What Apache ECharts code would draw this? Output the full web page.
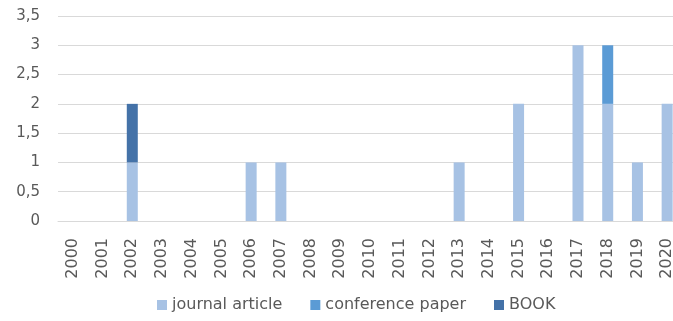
<!DOCTYPE html>
<html>
<head>
<meta charset="utf-8">
<script src="https://cdn.jsdelivr.net/npm/echarts@6/dist/echarts.min.js"></script>
<style>
  html, body { margin: 0; padding: 0; background: #fff; overflow: hidden; }
  #chart { width: 673px; height: 321px; }
</style>
</head>
<body>
<div id="chart"></div>
<script>
// Publications per year, stacked by type
const years = ['2000','2001','2002','2003','2004','2005','2006','2007','2008','2009','2010',
               '2011','2012','2013','2014','2015','2016','2017','2018','2019','2020'];
const journalArticle  = [0,0,1,0,0,0,1,1,0,0,0,0,0,1,0,2,0,3,2,1,2];
const conferencePaper = [0,0,0,0,0,0,0,0,0,0,0,0,0,0,0,0,0,0,1,0,0];
const book            = [0,0,1,0,0,0,0,0,0,0,0,0,0,0,0,0,0,0,0,0,0];
const yTicks = [0, 0.5, 1, 1.5, 2, 2.5, 3, 3.5];

const chart = echarts.init(document.getElementById('chart'));
const textColor = '#595959';
const fontFamily = 'DejaVu Sans, sans-serif';

function bar(name, data, color) {
  return {
    name: name,
    type: 'bar',
    stack: 'total',
    data: data,
    barWidth: 11,
    itemStyle: { color: color },
    emphasis: { disabled: true }
  };
}

chart.setOption({
  animation: false,
  // the plot runs slightly past the right edge of the canvas
  grid: {
    left: 58, width: 624, top: 16, bottom: 100,
    containLabel: false,
    outerBoundsMode: 'none'
  },
  legend: {
    bottom: 3,
    left: 152,
    itemWidth: 10,
    itemHeight: 10,
    itemGap: 28,
    icon: 'rect',
    textStyle: { color: textColor, fontSize: 16, fontFamily: fontFamily },
    data: ['journal article', 'conference paper', 'BOOK']
  },
  xAxis: {
    type: 'category',
    data: years,
    axisLine: { show: true, lineStyle: { color: '#d9d9d9' } },
    axisTick: { show: false },
    axisLabel: {
      rotate: 90,
      interval: 0,
      color: textColor,
      fontSize: 16,
      fontFamily: fontFamily,
      margin: 17
    }
  },
  yAxis: {
    type: 'value',
    min: yTicks[0],
    max: yTicks[yTicks.length - 1],
    interval: 0.5,
    axisLine: { show: false },
    axisTick: { show: false },
    splitLine: { lineStyle: { color: '#d9d9d9' } },
    axisLabel: {
      color: textColor,
      fontSize: 15,
      fontFamily: fontFamily,
      margin: 18,
      formatter: v => String(v).replace('.', ',')
    }
  },
  series: [
    bar('journal article', journalArticle, '#a7c2e4'),
    bar('conference paper', conferencePaper, '#5b9bd5'),
    bar('BOOK', book, '#4472a8')
  ]
});
</script>
</body>
</html>
